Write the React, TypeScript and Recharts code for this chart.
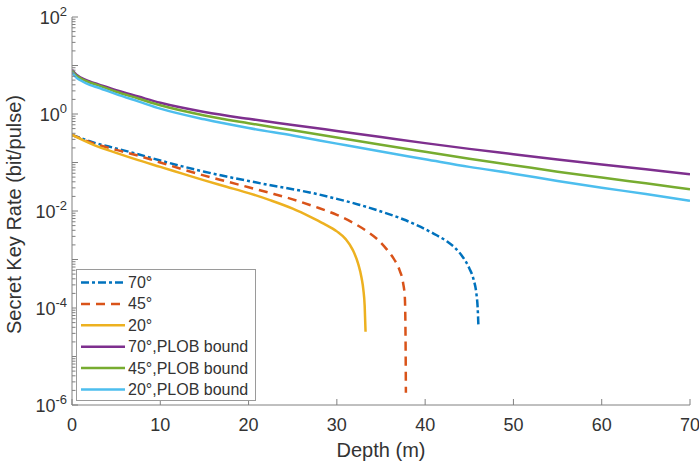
import { LineChart, Line, XAxis, YAxis, Legend } from 'recharts';

// PLOB bounds, sampled on a shared depth grid (m)
const plobDepth = [0, 0.5, 1, 2, 3, 5, 7.5, 10, 15, 20, 25, 30, 35, 40, 45, 50, 55, 60, 65, 70];
const plob70 = [8.13, 6.46, 5.62, 4.68, 4.07, 3.09, 2.29, 1.7, 1.1, 0.794, 0.596, 0.447, 0.335, 0.251, 0.191, 0.148, 0.115, 0.0912, 0.0724, 0.0575];
const plob45 = [7.76, 6.17, 5.37, 4.47, 3.89, 2.88, 2.09, 1.51, 0.933, 0.646, 0.462, 0.327, 0.232, 0.166, 0.119, 0.0881, 0.0646, 0.049, 0.0372, 0.0282];
const plob20 = [7.24, 5.62, 4.9, 3.98, 3.47, 2.57, 1.82, 1.29, 0.776, 0.513, 0.359, 0.245, 0.168, 0.117, 0.0813, 0.0589, 0.0417, 0.0302, 0.0224, 0.0162];

// secret key rate curves, each with its own depth samples
const depth70 = [0, 2.5, 5, 7.5, 10, 12.5, 15, 17.5, 20, 22.5, 25, 27.5, 30, 32.5, 35, 37.5, 39.5, 41, 42.5, 43.5, 44.3, 45, 45.5, 45.8, 45.95, 46.03];
const rate70 = [0.372, 0.257, 0.195, 0.148, 0.11, 0.0832, 0.0646, 0.0513, 0.0417, 0.0339, 0.0282, 0.0229, 0.0178, 0.0135, 0.00977, 0.00676, 0.00468, 0.00339, 0.00234, 0.00166, 0.0011, 0.000661, 0.00038, 0.0002, 0.0001, 0.0000447];
const depth45 = [0, 2.5, 5, 7.5, 10, 12.5, 15, 17.5, 20, 22.5, 25, 27.5, 30, 32, 33.5, 34.7, 35.7, 36.5, 37.1, 37.5, 37.7, 37.78, 37.82];
const rate45 = [0.372, 0.245, 0.182, 0.138, 0.1, 0.0724, 0.0537, 0.0407, 0.0309, 0.0234, 0.0174, 0.0123, 0.00832, 0.0055, 0.00372, 0.00251, 0.00158, 0.001, 0.000603, 0.000331, 0.000166, 0.0000251, 0.00000178];
const depth20 = [0, 2.5, 5, 7.5, 10, 12.5, 15, 17.5, 20, 22.5, 25, 27, 28.5, 30, 31, 31.8, 32.4, 32.8, 33.0, 33.15, 33.25];
const rate20 = [0.372, 0.229, 0.158, 0.112, 0.0813, 0.0589, 0.0427, 0.0316, 0.0234, 0.0166, 0.0112, 0.00759, 0.0055, 0.0038, 0.00263, 0.00158, 0.000832, 0.000417, 0.00024, 0.000112, 0.0000324];

const xTicks = [0, 10, 20, 30, 40, 50, 60, 70];
const yMajor = [-6, -4, -2, 0, 2];

const plobData = plobDepth.map((d, i) => ({ depth: d, p70: plob70[i], p45: plob45[i], p20: plob20[i] }));
const toRows = (ds: number[], rs: number[]) => ds.map((d, i) => ({ depth: d, rate: rs[i] }));
const data70 = toRows(depth70, rate70);
const data45 = toRows(depth45, rate45);
const data20 = toRows(depth20, rate20);

const yTicks: number[] = [];
for (let e = -6; e < 2; e++) {
  for (let m = 1; m < 10; m++) yTicks.push(m * Math.pow(10, e));
}
yTicks.push(100);

const FONT = '"Liberation Sans", Arial, sans-serif';
const AXIS = '#808080';
const TEXT = '#333';

const series = [
  { name: '70°', color: '#0072BD', dash: '8 3 3 3' },
  { name: '45°', color: '#D95319', dash: '9 6' },
  { name: '20°', color: '#EDB120', dash: '' },
  { name: '70°,PLOB bound', color: '#7E2F8E', dash: '' },
  { name: '45°,PLOB bound', color: '#77AC30', dash: '' },
  { name: '20°,PLOB bound', color: '#4DBEEE', dash: '' },
];

function YTick(props: any) {
  const { x, y, payload } = props;
  const exp = Math.log10(payload.value);
  const isDecade = Math.abs(exp - Math.round(exp)) < 1e-6;
  const labeled = isDecade && yMajor.includes(Math.round(exp));
  return (
    <g>
      <line x1={x} x2={x + (isDecade ? 6 : 3.5)} y1={y} y2={y} stroke={AXIS} />
      {labeled && (
        <text x={x - 5} y={y + 7} textAnchor="end" fontSize={18} fill={TEXT} fontFamily={FONT}>
          <tspan>10</tspan>
          <tspan dy={-8} fontSize={13}>{Math.round(exp)}</tspan>
        </text>
      )}
    </g>
  );
}

function XTick(props: any) {
  const { x, y, payload } = props;
  return (
    <g>
      <line x1={x} x2={x} y1={y} y2={y - 6} stroke={AXIS} />
      <text x={x} y={y + 26} textAnchor="middle" fontSize={18} fill={TEXT} fontFamily={FONT}>
        {payload.value}
      </text>
    </g>
  );
}

function LegendBox() {
  return (
    <svg width={180} height={132} style={{ display: 'block' }}>
      <rect x={0.5} y={0.5} width={179} height={131} fill="#fff" stroke="#9a9a9a" />
      {series.map((s, i) => {
        const cy = 13.5 + i * 21.4;
        return (
          <g key={s.name}>
            <line x1={5} x2={49} y1={cy} y2={cy} stroke={s.color} strokeWidth={2.5} strokeDasharray={s.dash || undefined} />
            <text x={52} y={cy + 5.5} fontSize={16} fill={TEXT} fontFamily={FONT}>{s.name}</text>
          </g>
        );
      })}
    </svg>
  );
}

export default function App() {
  return (
    <div style={{ position: 'absolute', left: 0, top: 0 }}>
      <LineChart width={699} height={463} margin={{ top: 17, right: 9, left: 0, bottom: 0 }}>
        <XAxis
          type="number"
          dataKey="depth"
          domain={[0, 70]}
          ticks={xTicks}
          interval={0}
          allowDataOverflow
          height={58}
          stroke={AXIS}
          tickSize={0}
          tickMargin={0}
          tick={<XTick />}
          label={{
            value: 'Depth (m)',
            content: (p: any) => (
              <text x={p.viewBox.x + p.viewBox.width / 2} y={p.viewBox.y + 52} textAnchor="middle" fontSize={20} fill={TEXT} fontFamily={FONT}>
                Depth (m)
              </text>
            ),
          }}
        />
        <YAxis
          type="number"
          scale="log"
          domain={[1e-6, 100]}
          ticks={yTicks}
          interval={0}
          allowDataOverflow
          width={72}
          stroke={AXIS}
          tickSize={0}
          tickMargin={0}
          tick={<YTick />}
          label={{
            value: 'Secret Key Rate (bit/pulse)',
            content: () => (
              <text x={21} y={214.5} transform="rotate(-90, 21, 214.5)" textAnchor="middle" fontSize={20} fill={TEXT} fontFamily={FONT}>
                Secret Key Rate (bit/pulse)
              </text>
            ),
          }}
        />
        <Line data={data70} dataKey="rate" name="70°" type="monotone" stroke="#0072BD" strokeWidth={2.5} strokeDasharray="8 3 3 3" dot={false} isAnimationActive={false} />
        <Line data={data45} dataKey="rate" name="45°" type="monotone" stroke="#D95319" strokeWidth={2.5} strokeDasharray="9 6" dot={false} isAnimationActive={false} />
        <Line data={data20} dataKey="rate" name="20°" type="monotone" stroke="#EDB120" strokeWidth={2.5} dot={false} isAnimationActive={false} />
        <Line data={plobData} dataKey="p70" name="70°,PLOB bound" type="monotone" stroke="#7E2F8E" strokeWidth={2.5} dot={false} isAnimationActive={false} />
        <Line data={plobData} dataKey="p45" name="45°,PLOB bound" type="monotone" stroke="#77AC30" strokeWidth={2.5} dot={false} isAnimationActive={false} />
        <Line data={plobData} dataKey="p20" name="20°,PLOB bound" type="monotone" stroke="#4DBEEE" strokeWidth={2.5} dot={false} isAnimationActive={false} />
        <Legend
          layout="vertical"
          align="center"
          verticalAlign="middle"
          content={() => <LegendBox />}
          wrapperStyle={{ left: 76, top: 269, width: 180, height: 132 }}
        />
      </LineChart>
    </div>
  );
}
